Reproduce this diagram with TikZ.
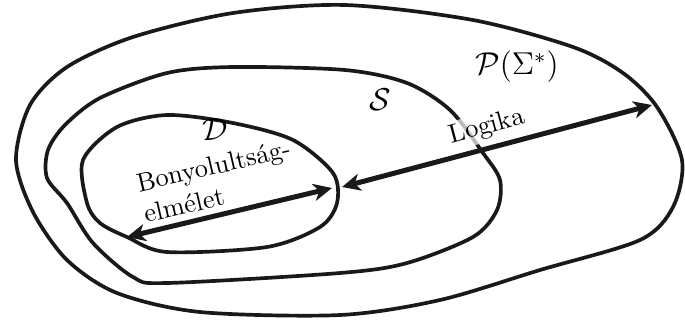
\documentclass[tikz,border=0pt]{standalone}
\usepackage{amsmath,amssymb}
\usepackage{tikz}
\usetikzlibrary{arrows.meta}
\tikzset{
  setline/.style={line width=1.4pt,black!90},
  bidir/.style={{Stealth[length=7pt,width=6.5pt,inset=2pt]}-{Stealth[length=7pt,width=6.5pt,inset=2pt]},line width=1.9pt,black!90},
  setlbl/.style={font=\large,inner sep=1pt},
  arrlbl/.style={inner sep=1pt,fill=white,fill opacity=0.7,text opacity=1},
}

\begin{document}
\begin{tikzpicture}[x=0.38pt,y=-0.38pt]
    \useasboundingbox (0,0) rectangle (685,320);
    % P(Sigma^*)
    \draw[setline] plot[smooth cycle] coordinates {(345,5) (473,20) (573,47) (623,73) (657,107) (682,160) (673,207) (640,240) (540,270) (440,300) (340,315) (200,312) (117,293) (67,260) (33,212) (16,160) (30,105) (67,67) (133,37) (233,13)};
    % S
    \draw[setline] plot[smooth cycle] coordinates {(345,70) (407,83) (450,110) (483,153) (500,180) (497,210) (473,237) (407,263) (340,273) (167,283) (133,277) (93,243) (67,203) (47,178) (48,150) (65,125) (100,98) (167,73) (233,67)};
    % D
    \draw[setline] plot[smooth cycle] coordinates {(83,160) (117,127) (167,115) (233,123) (293,140) (333,173) (337,203) (320,227) (267,247) (167,252) (127,237) (100,223) (87,203)};
    \node[setlbl] (P) at (517,67) {$\mathcal{P}(\Sigma^*)$};
    \node[setlbl] (S) at (380,100) {$\mathcal{S}$};
    \node[setlbl] (D) at (215,130) {$\mathcal{D}$};
    \node[inner sep=1pt,align=left,rotate=13] (bony) at (217,181) {Bonyolultság-\\elmélet};
    \node[arrlbl,rotate=15] (logika) at (487,127) {Logika};
    \coordinate (bl) at (127,237);
    \coordinate (br) at (332,188);
    \coordinate (ll) at (342,187);
    \coordinate (lr) at (652,105);
    \draw[bidir] (bl) -- (br);
    \draw[bidir] (ll) -- (lr);
\end{tikzpicture}
\end{document}
